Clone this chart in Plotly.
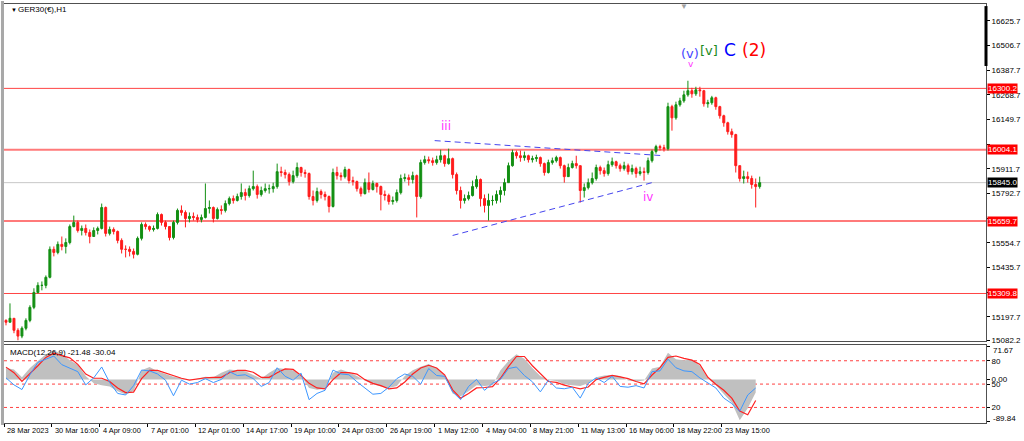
import plotly.graph_objects as go

# GER30 H1 candles (compressed, one candle per ~4 px of the original)
first_open = 15180
close_px = [15171, 15190, 15132, 15104, 15142, 15180, 15243, 15315, 15349, 15349,
            15388, 15523, 15508, 15547, 15537, 15556, 15633, 15653, 15614, 15624,
            15604, 15585, 15614, 15624, 15725, 15600, 15619, 15609, 15566, 15523,
            15523, 15513, 15499, 15576, 15643, 15633, 15619, 15624, 15691, 15653,
            15633, 15580, 15653, 15711, 15701, 15672, 15682, 15677, 15667, 15677,
            15720, 15725, 15672, 15715, 15711, 15744, 15768, 15759, 15778, 15797,
            15783, 15816, 15826, 15788, 15807, 15816, 15816, 15826, 15898, 15894,
            15884, 15850, 15879, 15918, 15894, 15889, 15778, 15759, 15802, 15788,
            15778, 15730, 15894, 15879, 15874, 15908, 15855, 15850, 15816, 15792,
            15845, 15812, 15841, 15826, 15788, 15783, 15754, 15759, 15797, 15865,
            15869, 15860, 15879, 15778, 15942, 15956, 15951, 15942, 15956, 15975,
            15937, 15961, 15884, 15807, 15759, 15768, 15783, 15826, 15860, 15768,
            15735, 15759, 15759, 15788, 15807, 15845, 15927, 15990, 15975, 15966,
            15975, 15956, 15961, 15966, 15937, 15894, 15942, 15951, 15966, 15927,
            15874, 15918, 15937, 15927, 15807, 15821, 15845, 15865, 15918, 15903,
            15889, 15932, 15946, 15927, 15913, 15927, 15898, 15913, 15889, 15898,
            15894, 15951, 15995, 16019, 16014, 16009, 16212, 16158, 16221, 16240,
            16269, 16289, 16274, 16293, 16289, 16226, 16231, 16255, 16212, 16168,
            16134, 16091, 16077, 15927, 15865, 15874, 15865, 15836, 15826, 15845]
high_px = [15185, 15262, 15190, 15142, 15151, 15190, 15253, 15335, 15364, 15368,
           15397, 15537, 15537, 15561, 15585, 15576, 15643, 15686, 15662, 15638,
           15643, 15619, 15629, 15633, 15744, 15730, 15633, 15629, 15614, 15576,
           15542, 15537, 15527, 15585, 15653, 15653, 15638, 15638, 15701, 15696,
           15662, 15633, 15662, 15720, 15735, 15711, 15701, 15701, 15691, 15691,
           15841, 15759, 15730, 15725, 15735, 15759, 15778, 15783, 15792, 15841,
           15816, 15831, 15903, 15836, 15826, 15841, 15836, 15845, 15937, 15922,
           15908, 15894, 15903, 15942, 15922, 15908, 15894, 15807, 15821, 15812,
           15802, 15783, 15913, 15922, 15894, 15922, 15913, 15874, 15855, 15826,
           15865, 15894, 15855, 15845, 15831, 15807, 15792, 15778, 15812, 15884,
           15889, 15884, 15898, 15884, 15956, 15975, 15971, 15966, 15975, 16004,
           15980, 16009, 15966, 15894, 15826, 15788, 15802, 15855, 15879, 15865,
           15788, 15792, 15783, 15807, 15826, 15865, 15942, 16004, 16000, 16000,
           15995, 15980, 15975, 15980, 15971, 15942, 15956, 15966, 15975, 15971,
           15932, 15937, 15951, 15975, 15927, 15841, 15865, 15894, 15932, 15927,
           15918, 15951, 15966, 15951, 15937, 15946, 15937, 15932, 15922, 15922,
           15918, 15966, 16004, 16028, 16028, 16028, 16231, 16221, 16236, 16255,
           16289, 16337, 16303, 16308, 16308, 16293, 16245, 16264, 16260, 16216,
           16173, 16139, 16106, 16081, 15927, 15903, 15898, 15879, 15865, 15874]
low_px = [15156, 15171, 15118, 15084, 15094, 15132, 15171, 15234, 15310, 15325,
          15335, 15383, 15489, 15499, 15518, 15503, 15547, 15629, 15604, 15590,
          15590, 15552, 15585, 15595, 15619, 15585, 15590, 15595, 15552, 15503,
          15484, 15489, 15479, 15494, 15566, 15619, 15609, 15609, 15619, 15638,
          15619, 15566, 15571, 15643, 15686, 15629, 15653, 15662, 15653, 15653,
          15672, 15696, 15653, 15667, 15691, 15701, 15735, 15744, 15754, 15763,
          15759, 15773, 15807, 15768, 15778, 15797, 15792, 15797, 15816, 15874,
          15865, 15831, 15841, 15869, 15874, 15869, 15763, 15735, 15749, 15768,
          15759, 15701, 15725, 15860, 15855, 15865, 15841, 15831, 15802, 15778,
          15788, 15797, 15807, 15797, 15711, 15759, 15739, 15739, 15749, 15788,
          15850, 15831, 15841, 15677, 15768, 15932, 15937, 15927, 15932, 15942,
          15922, 15932, 15865, 15788, 15720, 15744, 15759, 15778, 15816, 15730,
          15701, 15662, 15735, 15744, 15749, 15783, 15845, 15922, 15961, 15946,
          15951, 15942, 15942, 15946, 15922, 15879, 15889, 15932, 15942, 15913,
          15845, 15879, 15913, 15913, 15749, 15773, 15812, 15836, 15855, 15884,
          15874, 15879, 15922, 15913, 15898, 15903, 15884, 15884, 15869, 15879,
          15855, 15884, 15942, 15985, 16000, 15995, 16000, 16096, 16149, 16212,
          16231, 16260, 16255, 16264, 16260, 16212, 16207, 16221, 16197, 16154,
          16115, 16077, 16062, 15894, 15850, 15841, 15845, 15816, 15725, 15816]

# MACD window, sampled every second candle
macd_main = [25, 22, 5, 25, 40, 55, 63, 56, 42, 32,
             8, -8, -12, -15, -25, -32, -25, 20, 27, 18,
             12, 6, 3, -1, 2, 6, 5, 15, 22, 20,
             18, 10, 2, 15, 25, 23, 20, 8, -18, -22,
             -20, 15, 22, 16, 8, -2, -10, -15, -18, -14,
             8, 20, 28, 34, 25, 8, -30, -36, -25, -12,
             -14, -12, 20, 40, 55, 45, 25, 8, -1, -3,
             -10, -12, -14, -8, 5, 9, 10, 8, -2, -4,
             -2, 24, 28, 58, 44, 42, 43, 30, 3, -12,
             -30, -50, -88, -62, -28]
macd_signal = [27, 15, -4, 12, 30, 48, 57, 52, 47, 33,
               12, 3, 3, -4, -18, -28, -27, 2, 20, 20,
               14, 9, 3, -1, 2, 4, 5, 5, 15, 20,
               20, 16, 5, 5, 15, 23, 22, 9, -8, -18,
               -20, 0, 15, 15, 12, 0, -8, -13, -20, -18,
               -5, 12, 25, 31, 25, 10, -22, -40, -30, -18,
               -17, -15, 3, 28, 50, 50, 30, 12, -4, -6,
               -12, -16, -20, -16, 0, 5, 9, 6, 2, -4,
               -9, 10, 26, 48, 51, 46, 42, 33, 5, -10,
               -23, -40, -68, -76, -45]
osc_blue = [58, 49, 43, 62, 78, 82, 86, 75, 71, 66,
            49, 58, 72, 52, 38, 36, 48, 68, 67, 63,
            55, 35, 55, 50, 52, 57, 52, 56, 66, 61,
            62, 57, 47, 52, 71, 60, 55, 64, 30, 38,
            42, 68, 63, 62, 53, 45, 37, 38, 46, 57,
            63, 60, 50, 70, 61, 60, 40, 30, 47, 56,
            42, 51, 56, 70, 72, 61, 53, 40, 55, 45,
            44, 46, 32, 51, 58, 52, 60, 47, 46, 48,
            45, 66, 67, 82, 71, 67, 66, 58, 52, 45,
            32, 25, 15, 36, 45]

price_ticks = [16625.7, 16506.7, 16387.7, 16268.7, 16149.7, 16030.7, 15911.7,
               15792.7, 15673.7, 15554.7, 15435.7, 15316.7, 15197.7, 15082.2]
hidden_ticks = [16030.7, 15673.7, 15316.7]   # covered by the level labels
red_levels = [16300.2, 16004.1, 15659.7, 15309.8]
bid = 15845.0
macd_max, macd_min = 71.67, -89.84
date_labels = ["28 Mar 2023", "30 Mar 16:00", "4 Apr 09:00", "7 Apr 01:00",
               "12 Apr 01:00", "14 Apr 17:00", "19 Apr 10:00", "24 Apr 03:00",
               "26 Apr 19:00", "1 May 12:00", "4 May 04:00", "8 May 21:00",
               "11 May 13:00", "16 May 06:00", "18 May 22:00", "23 May 15:00"]

# trendlines of the triangle (bar, price)
tri_upper_x, tri_upper_y = [107.5, 165], [16048, 15975]
tri_lower_x, tri_lower_y = [112, 162], [15590, 15845]

# wave labels: text, bar, price, colour, size
wave_labels = [("iii", 110.3, 16120, "#ff33ff", 12),
               ("iv", 161, 15778, "#ff33ff", 12),
               ("(v)", 171.5, 16467, "#4646ff", 13),
               ("v", 171.8, 16417, "#ff33ff", 9),
               ("[v]", 176.2, 16481, "#1a8a1a", 13),
               ("C", 181.5, 16486, "#0000ff", 17),
               ("(2)", 187.5, 16486, "#ff0000", 17)]

n = len(close_px)
bars = list(range(n))
open_px = [first_open] + close_px[:-1]
hi = [max(h, o, c) for h, o, c in zip(high_px, open_px, close_px)]
lo = [min(l, o, c) for l, o, c in zip(low_px, open_px, close_px)]
macd_x = list(range(0, 2 * len(macd_main), 2))

font = "Liberation Sans"
xr = [-0.5, 245.75]

fig = go.Figure()
fig.add_trace(go.Candlestick(
    x=bars, open=open_px, high=hi, low=lo, close=close_px,
    increasing=dict(line=dict(color="#138f13", width=1), fillcolor="#138f13"),
    decreasing=dict(line=dict(color="#ff1c1c", width=1), fillcolor="#ff1c1c"),
    whiskerwidth=0, hoverinfo="skip", xaxis="x", yaxis="y"))

fig.add_trace(go.Scatter(x=tri_upper_x, y=tri_upper_y, mode="lines",
                         line=dict(color="#4646ee", width=1, dash="6px,4px"),
                         xaxis="x", yaxis="y"))
fig.add_trace(go.Scatter(x=tri_lower_x, y=tri_lower_y, mode="lines",
                         line=dict(color="#4646ee", width=1, dash="6px,4px"),
                         xaxis="x", yaxis="y"))

fig.add_trace(go.Scatter(x=macd_x, y=macd_main, mode="lines", fill="tozeroy",
                         fillcolor="#c0c0c0", line=dict(width=0, color="#c0c0c0"),
                         xaxis="x2", yaxis="y2"))
fig.add_trace(go.Scatter(x=macd_x, y=osc_blue, mode="lines",
                         line=dict(color="#3c96ff", width=1), xaxis="x2", yaxis="y3"))
fig.add_trace(go.Scatter(x=macd_x, y=macd_signal, mode="lines",
                         line=dict(color="#ff2020", width=1.2), xaxis="x2", yaxis="y2"))

shapes = []
for lvl, w, col in zip(red_levels, [1, 2, 2, 1], ["#ff4444", "#ff7a7a", "#ff7a7a", "#ff4444"]):
    shapes.append(dict(type="line", xref="paper", x0=0, x1=1, yref="y", y0=lvl, y1=lvl,
                       line=dict(color=col, width=w), layer="below"))
shapes.append(dict(type="line", xref="paper", x0=0, x1=1, yref="y", y0=bid, y1=bid,
                   line=dict(color="#c8c8c8", width=1), layer="below"))
for lvl in [80, 50, 20]:
    shapes.append(dict(type="line", xref="paper", x0=0, x1=1, yref="y3", y0=lvl, y1=lvl,
                       line=dict(color="#ff4040", width=1, dash="3px,3px"), layer="below"))
shapes.append(dict(type="rect", xref="paper", x0=-0.0031, x1=0, yref="paper", y0=-0.005, y1=1.007,
                   fillcolor="#a8a8a8", line_width=0))
shapes.append(dict(type="line", xref="paper", x0=1, x1=1, yref="paper", y0=0.852, y1=0.995,
                   line=dict(color="black", width=3)))

ann = []
for lvl in red_levels:
    ann.append(dict(x=1, xref="paper", y=lvl, yref="y", text="%.1f" % lvl, showarrow=False,
                    xanchor="left", xshift=1, bgcolor="#ff0000", borderpad=0,
                    font=dict(family=font, size=8, color="white")))
ann.append(dict(x=1, xref="paper", y=bid, yref="y", text="%.1f" % bid, showarrow=False,
                xanchor="left", xshift=1, bgcolor="black", borderpad=0,
                font=dict(family=font, size=8, color="white")))
# window max / min labels of the MACD pane, set just inside its edges as MT4 does
ann.append(dict(x=1, xref="paper", y=0.172, yref="paper", text="%.2f" % macd_max, showarrow=False,
                xanchor="left", yanchor="middle", xshift=5,
                font=dict(family=font, size=8, color="black")))
ann.append(dict(x=1, xref="paper", y=0.01, yref="paper", text="%.2f" % macd_min, showarrow=False,
                xanchor="left", yanchor="middle", xshift=5,
                font=dict(family=font, size=8, color="black")))
for k, t in enumerate(date_labels):
    ann.append(dict(x=-0.5 + 12 * k, xref="x2", y=-0.019, yref="paper", text=t, showarrow=False,
                    xanchor="left", yanchor="middle", xshift=1,
                    font=dict(family=font, size=7.4, color="black")))
for t, bx, py, col, sz in wave_labels:
    ann.append(dict(x=bx, xref="x", y=py, yref="y", text=t, showarrow=False,
                    font=dict(family="DejaVu Sans", size=sz, color=col)))
ann.append(dict(x=0.005, xref="paper", y=0.9857, yref="paper", text="▼", showarrow=False,
                xanchor="left", yanchor="middle", font=dict(family=font, size=6, color="black")))
ann.append(dict(x=0.0122, xref="paper", y=0.9857, yref="paper", text="GER30(€),H1", showarrow=False,
                xanchor="left", yanchor="middle", font=dict(family=font, size=8, color="black")))
ann.append(dict(x=0.004, xref="paper", y=0.169, yref="paper", text="MACD(12,26,9) -21.48 -30.04",
                showarrow=False, xanchor="left", yanchor="middle",
                font=dict(family=font, size=8, color="black")))
ann.append(dict(x=0.6985, xref="paper", y=0.995, yref="paper", text="▼", showarrow=False,
                yanchor="middle", font=dict(family=font, size=8, color="#a0a0a0")))

frame = dict(showline=True, mirror=True, linecolor="#505050", linewidth=1,
             showgrid=False, zeroline=False)
fig.update_layout(
    width=1024, height=441,
    margin=dict(l=3, r=36, t=3, b=18),
    paper_bgcolor="white", plot_bgcolor="white",
    showlegend=False,
    font=dict(family=font, size=8, color="black"),
    xaxis=dict(domain=[0, 1], anchor="y", range=xr, showticklabels=False,
               rangeslider=dict(visible=False), **frame),
    yaxis=dict(domain=[0.1952, 1], anchor="x", range=[15079.4, 16707.6], side="right",
               tickvals=price_ticks,
               ticktext=["" if v in hidden_ticks else "%.1f" % v for v in price_ticks],
               ticks="outside", ticklen=3, tickcolor="black", **frame),
    xaxis2=dict(domain=[0, 1], anchor="y2", range=xr, showticklabels=False,
                tickvals=[-0.5 + 12 * k for k in range(len(date_labels))],
                ticks="outside", ticklen=3, tickcolor="black", **frame),
    yaxis2=dict(domain=[0, 0.1857], anchor="x2", range=[-93.75, 74.4], side="right",
                tickvals=[macd_max, 0, macd_min], ticktext=["", "0.00", ""],
                ticks="outside", ticklen=3, tickcolor="black", **frame),
    yaxis3=dict(overlaying="y2", anchor="x2", range=[0, 100], side="right",
                tickvals=[80, 50, 20], ticktext=["80", "50", "20"],
                ticks="outside", ticklen=3, tickcolor="black",
                showgrid=False, zeroline=False, showline=False),
    shapes=shapes, annotations=ann,
)

fig.write_html("out.html", config={"displayModeBar": False},
               post_script="document.body.style.margin='0';")
